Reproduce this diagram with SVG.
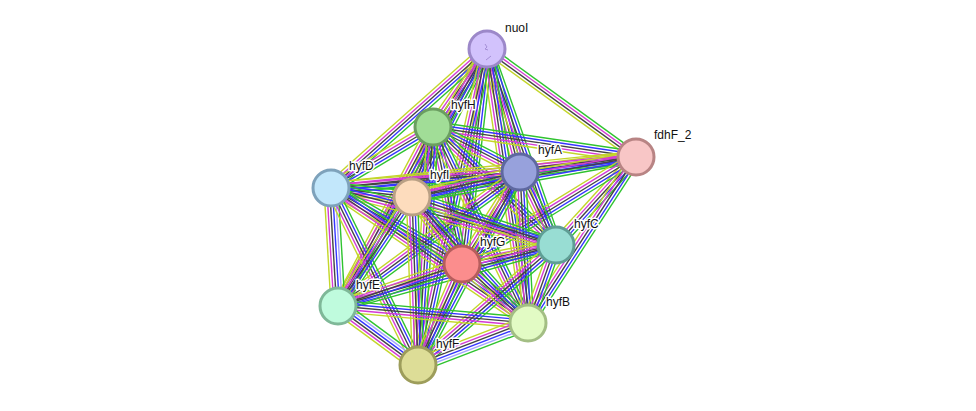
<svg xmlns="http://www.w3.org/2000/svg" width="976" height="411" viewBox="0 0 976 411">
<style>
.e line{stroke-width:1.4;fill:none}
.g{stroke:#2fc32f}.bl{stroke:#3535ff}.k{stroke:#444}.m{stroke:#d43bd4}.y{stroke:#c3d62a}.lb{stroke:#a3a3ff}
.n circle{stroke-width:3}
.n text{font-family:"Liberation Sans",Arial,sans-serif;font-size:12px;fill:#111;stroke:#fff;stroke-width:3px;stroke-linejoin:round;paint-order:stroke}
</style>
<defs>
<g id="b5" class="e">
<line class="g" x1="0" y1="-5.6" x2="1" y2="-5.6"/>
<line class="bl" x1="0" y1="-2.8" x2="1" y2="-2.8"/>
<line class="k" x1="0" y1="0" x2="1" y2="0"/>
<line class="m" x1="0" y1="2.8" x2="1" y2="2.8"/>
<line class="y" x1="0" y1="5.6" x2="1" y2="5.6"/>
</g>
<g id="b6" class="e">
<line class="g" x1="0" y1="-7" x2="1" y2="-7"/>
<line class="lb" x1="0" y1="-4.2" x2="1" y2="-4.2"/>
<line class="bl" x1="0" y1="-1.4" x2="1" y2="-1.4"/>
<line class="k" x1="0" y1="1.4" x2="1" y2="1.4"/>
<line class="m" x1="0" y1="4.2" x2="1" y2="4.2"/>
<line class="y" x1="0" y1="7" x2="1" y2="7"/>
</g>
<g id="b4" class="e">
<line class="g" x1="0" y1="-4.2" x2="1" y2="-4.2"/>
<line class="m" x1="0" y1="-1.4" x2="1" y2="-1.4"/>
<line class="k" x1="0" y1="1.4" x2="1" y2="1.4"/>
<line class="y" x1="0" y1="4.2" x2="1" y2="4.2"/>
</g>
</defs>
<rect width="976" height="411" fill="#fff"/>
<g id="edges">
<use href="#b5" transform="matrix(-54,78,-0.822,-0.569,487,49)"/>
<use href="#b4" transform="matrix(149,108,-0.587,0.810,487,49)"/>
<use href="#b5" transform="matrix(33,123,-0.966,0.259,487,49)"/>
<use href="#b5" transform="matrix(-156,139,-0.665,-0.747,487,49)"/>
<use href="#b5" transform="matrix(-75,148,-0.892,-0.452,487,49)"/>
<use href="#b5" transform="matrix(69,196,-0.943,0.332,487,49)"/>
<use href="#b5" transform="matrix(-25,215,-0.993,-0.116,487,49)"/>
<use href="#b5" transform="matrix(-149,257,-0.865,-0.502,487,49)"/>
<use href="#b5" transform="matrix(41,274,-0.989,0.148,487,49)"/>
<use href="#b5" transform="matrix(-69,316,-0.977,-0.213,487,49)"/>
<use href="#b5" transform="matrix(203,30,-0.146,0.989,433,127)"/>
<use href="#b5" transform="matrix(87,45,-0.459,0.888,433,127)"/>
<use href="#b5" transform="matrix(-102,61,-0.513,-0.858,433,127)"/>
<use href="#b5" transform="matrix(-21,70,-0.958,-0.287,433,127)"/>
<use href="#b5" transform="matrix(123,118,-0.692,0.722,433,127)"/>
<use href="#b5" transform="matrix(29,137,-0.978,0.207,433,127)"/>
<use href="#b5" transform="matrix(-95,179,-0.883,-0.469,433,127)"/>
<use href="#b5" transform="matrix(95,196,-0.900,0.436,433,127)"/>
<use href="#b5" transform="matrix(-15,238,-0.998,-0.063,433,127)"/>
<use href="#b5" transform="matrix(-116,15,-0.128,-0.992,636,157)"/>
<use href="#b5" transform="matrix(-305,31,-0.101,-0.995,636,157)"/>
<use href="#b5" transform="matrix(-224,40,-0.176,-0.985,636,157)"/>
<use href="#b5" transform="matrix(-80,88,-0.740,-0.673,636,157)"/>
<use href="#b5" transform="matrix(-174,107,-0.524,-0.852,636,157)"/>
<use href="#b5" transform="matrix(-108,166,-0.838,-0.545,636,157)"/>
<use href="#b5" transform="matrix(-189,16,-0.084,-0.996,520,172)"/>
<use href="#b5" transform="matrix(-108,25,-0.225,-0.974,520,172)"/>
<use href="#b5" transform="matrix(36,73,-0.897,0.442,520,172)"/>
<use href="#b5" transform="matrix(-58,92,-0.846,-0.533,520,172)"/>
<use href="#b5" transform="matrix(-182,134,-0.593,-0.805,520,172)"/>
<use href="#b5" transform="matrix(8,151,-0.999,0.053,520,172)"/>
<use href="#b5" transform="matrix(-102,193,-0.884,-0.467,520,172)"/>
<use href="#b5" transform="matrix(81,9,-0.110,0.994,331,188)"/>
<use href="#b5" transform="matrix(225,57,-0.246,0.969,331,188)"/>
<use href="#b5" transform="matrix(131,76,-0.502,0.865,331,188)"/>
<use href="#b6" transform="matrix(7,118,-0.998,0.059,331,188)"/>
<use href="#b5" transform="matrix(197,135,-0.565,0.825,331,188)"/>
<use href="#b5" transform="matrix(87,177,-0.898,0.441,331,188)"/>
<use href="#b5" transform="matrix(144,48,-0.316,0.949,412,197)"/>
<use href="#b5" transform="matrix(50,67,-0.801,0.598,412,197)"/>
<use href="#b5" transform="matrix(-74,109,-0.828,-0.562,412,197)"/>
<use href="#b5" transform="matrix(116,126,-0.736,0.677,412,197)"/>
<use href="#b5" transform="matrix(6,168,-0.999,0.036,412,197)"/>
<use href="#b5" transform="matrix(-94,19,-0.198,-0.980,556,245)"/>
<use href="#b5" transform="matrix(-218,61,-0.269,-0.963,556,245)"/>
<use href="#b5" transform="matrix(-28,78,-0.941,-0.338,556,245)"/>
<use href="#b5" transform="matrix(-138,120,-0.656,-0.755,556,245)"/>
<use href="#b5" transform="matrix(-124,42,-0.321,-0.947,462,264)"/>
<use href="#b5" transform="matrix(66,59,-0.667,0.746,462,264)"/>
<use href="#b5" transform="matrix(-44,101,-0.917,-0.399,462,264)"/>
<use href="#b5" transform="matrix(190,17,-0.089,0.996,338,306)"/>
<use href="#b6" transform="matrix(80,59,-0.594,0.805,338,306)"/>
<use href="#b6" transform="matrix(-110,42,-0.357,-0.935,528,323)"/>
</g>
<g id="nuoI" class="n"><circle cx="487" cy="49" r="18" fill="#d2c2fc" stroke="#9c88c9"/><path d="M485 44 l2 3 -2 2 3 1 M486 60 l5 -4" stroke="#a48fd6" stroke-width="1" fill="none"/><text x="505" y="32">nuoI</text></g>
<g id="hyfH" class="n"><circle cx="433" cy="127" r="18" fill="#a1dd97" stroke="#6b9e61"/><text x="451" y="109">hyfH</text></g>
<g id="fdhF_2" class="n"><circle cx="636" cy="157" r="18" fill="#f8c6c6" stroke="#b88484"/><text x="654" y="139">fdhF_2</text></g>
<g id="hyfA" class="n"><circle cx="520" cy="172" r="18" fill="#97a1dc" stroke="#5e68a0"/><text x="538" y="154">hyfA</text></g>
<g id="hyfD" class="n"><circle cx="331" cy="188" r="18" fill="#c2e7fb" stroke="#7ea2bb"/><text x="349" y="170">hyfD</text></g>
<g id="hyfI" class="n"><circle cx="412" cy="197" r="18" fill="#fddcbd" stroke="#b9a085"/><text x="430" y="179">hyfI</text></g>
<g id="hyfC" class="n"><circle cx="556" cy="245" r="18" fill="#98ddd3" stroke="#5f9e95"/><text x="574" y="228">hyfC</text></g>
<g id="hyfG" class="n"><circle cx="462" cy="264" r="18" fill="#fb8d8d" stroke="#b65d5d"/><text x="480" y="246">hyfG</text></g>
<g id="hyfE" class="n"><circle cx="338" cy="306" r="18" fill="#bffbdd" stroke="#7fb898"/><text x="356" y="289">hyfE</text></g>
<g id="hyfB" class="n"><circle cx="528" cy="323" r="18" fill="#e2fbc4" stroke="#a3be84"/><text x="546" y="306">hyfB</text></g>
<g id="hyfF" class="n"><circle cx="418" cy="365" r="18" fill="#dddd97" stroke="#9d9d5b"/><text x="436" y="348">hyfF</text></g>
</svg>
